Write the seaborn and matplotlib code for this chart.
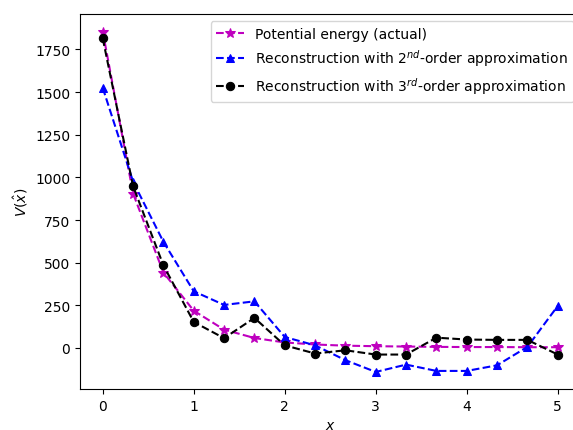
import numpy as np
import pandas as pd
import matplotlib
matplotlib.use("Agg")
import matplotlib.pyplot as plt
import seaborn as sns

x_vals = [0, 1/3, 2/3, 1, 4/3, 5/3, 2, 7/3, 8/3, 3, 10/3, 11/3, 4, 13/3, 14/3, 5]
v_actual = [1855, 905, 442, 218, 107, 58, 32, 20, 13, 10, 8, 6, 5, 5, 4, 4]
v_second = [1525, 975, 622, 332, 252, 273, 64, 15, -72, -141, -98, -135, -135, -102, 6, 246]
v_third = [1815, 948, 484, 152, 57, 176, 15, -33, -14, -39, -39, 60, 49, 47, 47, -39]

labels = ["Potential energy (actual)",
          "Reconstruction with 2$^{nd}$-order approximation",
          "Reconstruction with 3$^{rd}$-order approximation"]

fig = plt.figure(figsize=(5.73, 4.31), dpi=100)
ax = fig.add_axes([80/573, (431-390)/431, (580.5-80)/573, (390-15)/431])

styles = [(v_actual, "m", "*", 7), (v_second, "b", "^", 6), (v_third, "k", "o", 6)]
for (vals, col, mk, ms), lab in zip(styles, labels):
    df = pd.DataFrame({"x": x_vals, "V": vals})
    sns.lineplot(data=df, x="x", y="V", ax=ax, color=col, marker=mk,
                 markersize=ms, linestyle="--", label=lab,
                 markeredgecolor=col, markerfacecolor=col)

ax.set_xticks([0, 1, 2, 3, 4, 5])
ax.set_yticks([0, 250, 500, 750, 1000, 1250, 1500, 1750])
ax.set_xlim(-0.25, 5.25)
ax.set_ylim(-241, 1958)
ax.set_xlabel("$x$")
ax.set_ylabel(r"$V(\hat{x})$")
ax.legend(loc="upper right")

fig.savefig("out.png", dpi=100)
